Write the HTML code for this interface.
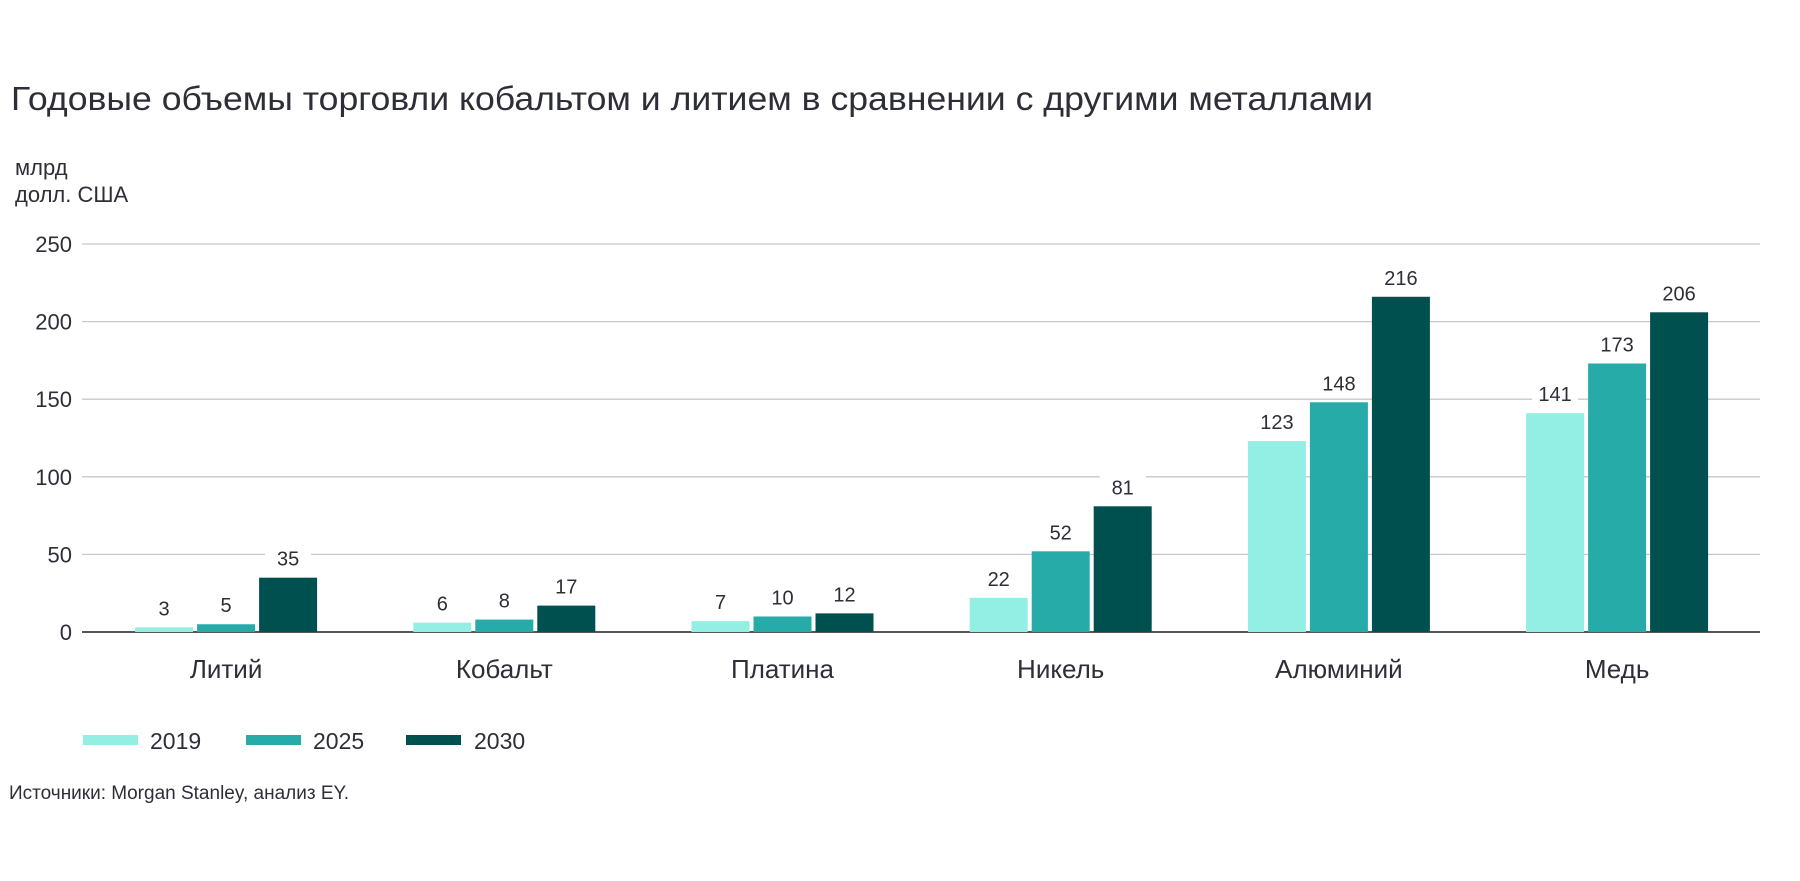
<!DOCTYPE html>
<html><head><meta charset="utf-8"><style>
html,body{margin:0;padding:0;background:#fff;}
svg{display:block;font-family:"Liberation Sans",sans-serif;}
</style></head><body>
<svg id="chart" width="1800" height="881" viewBox="0 0 1800 881">
<text x="11" y="110" font-size="33" fill="#2e2e38" textLength="1362" lengthAdjust="spacingAndGlyphs">Годовые объемы торговли кобальтом и литием в сравнении с другими металлами</text>
<text x="15" y="175" font-size="22" fill="#2e2e38">млрд</text>
<text x="15" y="202" font-size="22" fill="#2e2e38">долл. США</text>
<g id="grid"></g><g id="bars"></g><g id="labels"></g>
<g>
<rect x="83" y="735" width="55" height="10" fill="#93efe4"/>
<text x="150" y="749" font-size="23" fill="#2e2e38">2019</text>
<rect x="246" y="735" width="55" height="10" fill="#27aba9"/>
<text x="313" y="749" font-size="23" fill="#2e2e38">2025</text>
<rect x="406" y="735" width="55" height="10" fill="#00504f"/>
<text x="474" y="749" font-size="23" fill="#2e2e38">2030</text>
</g>
<text x="9" y="799" font-size="19" fill="#2e2e38">Источники: Morgan Stanley, анализ EY.</text>
</svg>
<script>
const categories=["Литий","Кобальт","Платина","Никель","Алюминий","Медь"];
const seriesNames=["2019","2025","2030"];
const values2019=[3,6,7,22,123,141];
const values2025=[5,8,10,52,148,173];
const values2030=[35,17,12,81,216,206];
const yTicks=[0,50,100,150,200,250];
const colors=["#93efe4","#27aba9","#00504f"];
const NS="http://www.w3.org/2000/svg";
const y0=632,y1=244,yMax=250,plotL=82,plotR=1760,bandStart=87,bandW=278.2,barW=58,barGap=4;
function yScale(v){return y0-(v/yMax)*(y0-y1);}
function xCenter(i){return bandStart+bandW*(i+0.5);}
function mk(t,a,p){const e=document.createElementNS(NS,t);for(const k in a)e.setAttribute(k,a[k]);p.appendChild(e);return e;}
const grid=document.getElementById('grid'),bars=document.getElementById('bars'),labels=document.getElementById('labels');
yTicks.forEach(t=>{
 const l=mk('line',{x1:plotL,x2:plotR,y1:yScale(t),y2:yScale(t),stroke:t===0?'#555':'#c8c8c8','stroke-width':t===0?2:1.3},grid);
 
 
 const tx=mk('text',{x:72,y:yScale(t)+8,'text-anchor':'end','font-size':22,fill:'#2e2e38'},grid);
 tx.textContent=t;
 
 
});
const all=[values2019,values2025,values2030];
categories.forEach((c,i)=>{
 const cx=xCenter(i);
 all.forEach((vals,s)=>{
  const x=cx-barW*1.5-barGap+s*(barW+barGap);
  const v=vals[i];
  const r=mk('rect',{x:x,y:yScale(v),width:barW,height:y0-yScale(v),fill:colors[s]},bars);
  
  
  const ty=yScale(v)-12;
  mk('rect',{x:x+barW/2-23,y:ty-20,width:46,height:26,fill:'#fff'},labels);
  const tx=mk('text',{x:x+barW/2,y:ty,'text-anchor':'middle','font-size':20,fill:'#2e2e38'},labels);
  tx.textContent=v;
  
  
 });
 const cl=mk('text',{x:cx,y:678,'text-anchor':'middle','font-size':26,fill:'#2e2e38'},labels);
 cl.textContent=c;
 
 
});
</script>
</body></html>
